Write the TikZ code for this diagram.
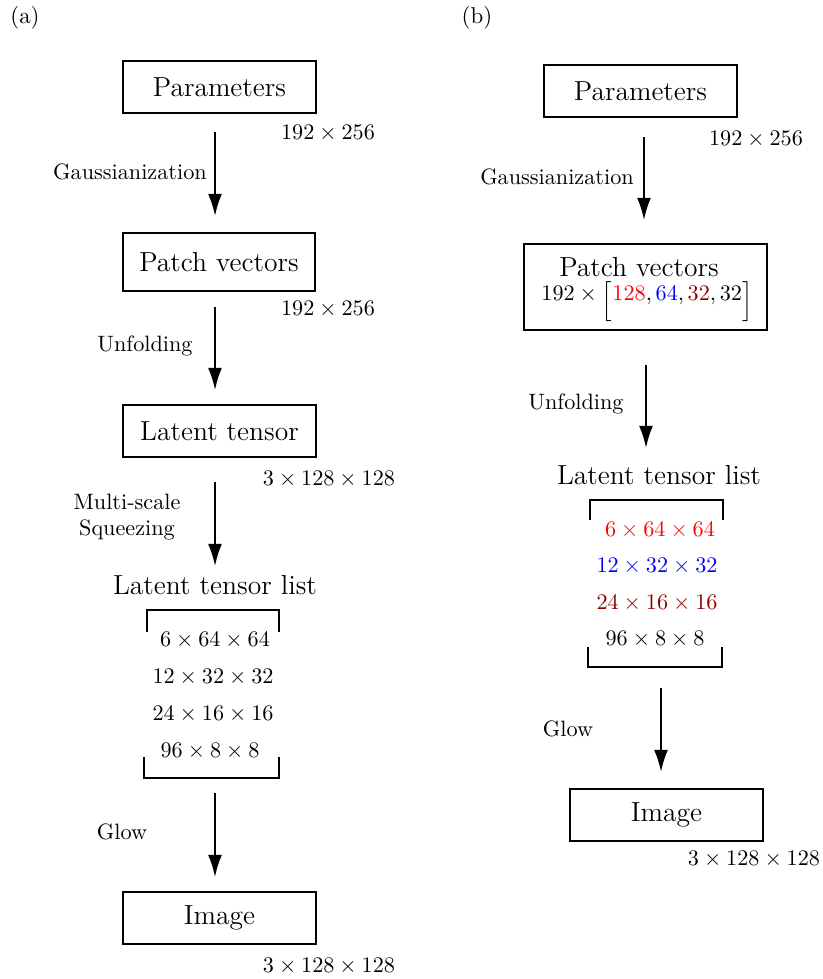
\documentclass[tikz,border=0pt]{standalone}
\usepackage{graphicx}
\usetikzlibrary{arrows.meta}
\definecolor{dred}{rgb}{0.55,0,0}
\newcommand{\mybrk}[1]{\smash{\raisebox{-3.2pt}{$\Big#1$}}}
\begin{document}
\begin{tikzpicture}[x=0.45pt,y=-0.45pt,
  box/.style={draw,line width=0.9pt,minimum width=86.8pt,minimum height=23.4pt,inner sep=0pt,font=\fontsize{12.4}{14}\selectfont},
  dim/.style={font=\fontsize{10.3}{12}\selectfont,inner sep=0pt},
  lab/.style={font=\fontsize{10}{12}\selectfont,inner sep=0pt,align=center},
  ttl/.style={font=\fontsize{12.4}{14}\selectfont,inner sep=0pt},
  arr/.style={line width=0.9pt,-{Latex[length=10pt,width=6.3pt]}},
  brk/.style={line width=0.9pt}]
\useasboundingbox (0,0) rectangle (822,979);
% ---------------- (a)
\node[dim] (la) at (25,18) {(a)};
\node[box] (ap) at (219.5,87) {Parameters};
\node[dim] (apd) at (328,133) {$192\times256$};
\coordinate (a1s) at (215,132); \coordinate (a1e) at (215,216);
\draw[arr] (a1s) -- (a1e);
\node[lab] (ag) at (130,172) {Gaussianization};
\node[box,minimum height=26pt] (apv) at (219,262) {Patch vectors};
\node[dim] (apvd) at (328,309) {$192\times256$};
\coordinate (a2s) at (215,307); \coordinate (a2e) at (215,390);
\draw[arr] (a2s) -- (a2e);
\node[lab] (au) at (145,346) {Unfolding};
\node[box] (alt) at (219.5,431) {Latent tensor};
\node[dim] (altd) at (329,479) {$3\times128\times128$};
\coordinate (a3s) at (215,482); \coordinate (a3e) at (215,566);
\draw[arr] (a3s) -- (a3e);
\node[lab] (ams) at (127,517) {Multi-scale\\Squeezing};
\node[ttl] (all) at (215,585) {Latent tensor list};
\draw[brk] (147,632) -- (147,610) -- (279,610) -- (279,632);
\node[dim] (ar1) at (215,640) {$6\times64\times64$};
\node[dim] (ar2) at (213,677) {$12\times32\times32$};
\node[dim] (ar3) at (213,714) {$24\times16\times16$};
\node[dim] (ar4) at (210,751) {$96\times8\times8$};
\draw[brk] (144,757) -- (144,778) -- (279,778) -- (279,757);
\coordinate (a4s) at (215,793); \coordinate (a4e) at (215,877);
\draw[arr] (a4s) -- (a4e);
\node[lab] (agl) at (122,832) {Glow};
\node[box] (aim) at (219.5,918) {Image};
\node[dim] (aimd) at (329,966) {$3\times128\times128$};
% ---------------- (b)
\node[dim] (lb) at (477,18) {(b)};
\node[box] (bp) at (640.5,91.5) {Parameters};
\node[dim] (bpd) at (756,139) {$192\times256$};
\coordinate (b1s) at (644,137); \coordinate (b1e) at (644,220);
\draw[arr] (b1s) -- (b1e);
\node[lab] (bg) at (557,177) {Gaussianization};
\node[draw,line width=0.9pt,minimum width=109.4pt,minimum height=38.7pt,inner sep=0pt] (bpv) at (645.5,287) {};
\node[ttl] (bpvt) at (639,267) {Patch vectors};
\node[dim] (bpvd) at (647,295) {$192\times\mybrk[\textcolor{red}{128},\textcolor{blue}{64},\textcolor{dred}{32},32\mybrk]$};
\coordinate (b2s) at (646,365); \coordinate (b2e) at (646,448);
\draw[arr] (b2s) -- (b2e);
\node[lab] (bu) at (576,404) {Unfolding};
\node[ttl] (bll) at (659,475) {Latent tensor list};
\draw[brk] (590,520) -- (590,500) -- (723,500) -- (723,520);
\node[dim,text=red] (br1) at (660,530) {$6\times64\times64$};
\node[dim,text=blue] (br2) at (657,566) {$12\times32\times32$};
\node[dim,text=dred] (br3) at (657,603) {$24\times16\times16$};
\node[dim] (br4) at (655,639) {$96\times8\times8$};
\draw[brk] (588,647) -- (588,667) -- (722,667) -- (722,647);
\coordinate (b3s) at (661,688); \coordinate (b3e) at (661,772);
\draw[arr] (b3s) -- (b3e);
\node[lab] (bgl) at (568,729) {Glow};
\node[box] (bim) at (666.5,815) {Image};
\node[dim] (bimd) at (754,859) {$3\times128\times128$};
\end{tikzpicture}
\end{document}
